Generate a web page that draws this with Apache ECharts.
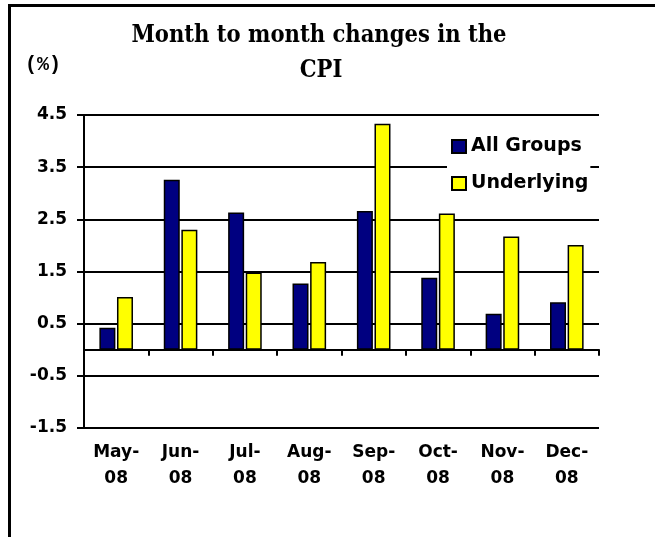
<!DOCTYPE html>
<html>
<head>
<meta charset="utf-8">
<script src="https://cdn.jsdelivr.net/npm/echarts@6/dist/echarts.min.js"></script>
<style>
  html, body { margin: 0; padding: 0; background: #fff; }
  #chart { width: 655px; height: 537px; }
</style>
</head>
<body>
<div id="chart"></div>
<script>
  var months = ["May-\n08", "Jun-\n08", "Jul-\n08", "Aug-\n08", "Sep-\n08", "Oct-\n08", "Nov-\n08", "Dec-\n08"];
  var allGroups = [0.42, 3.26, 2.63, 1.27, 2.66, 1.38, 0.69, 0.91];
  var underlying = [1.01, 2.30, 1.48, 1.68, 4.33, 2.61, 2.17, 2.01];
  var seriesNames = ["All Groups", "Underlying"];
  var titleLines = ["Month to month changes in the", "CPI"];

  var chartDom = document.getElementById("chart");
  var myChart = echarts.init(chartDom);

  var labelFont = "DejaVu Sans";
  var titleFont = "'DejaVu Serif Condensed', 'DejaVu Serif', serif";

  var option = {
    animation: false,
    backgroundColor: "#fff",
    grid: {
      left: 84,
      right: 56,
      top: 115,
      bottom: 109,
    },
    graphic: [
      {
        type: "polyline",
        shape: { points: [[9.5, 537], [9.5, 5.5], [655, 5.5]] },
        style: { stroke: "#000", lineWidth: 3, fill: null },
      },
      {
        type: "text",
        x: 319,
        y: 36,
        style: {
          text: titleLines[0],
          font: "bold 23.5px " + titleFont,
          fill: "#000",
          textAlign: "center",
          textVerticalAlign: "middle",
        },
      },
      {
        type: "text",
        x: 321,
        y: 71,
        style: {
          text: titleLines[1],
          font: "bold 23.5px " + titleFont,
          fill: "#000",
          textAlign: "center",
          textVerticalAlign: "middle",
        },
      },
    ],
    legend: {
      data: seriesNames,
      orient: "vertical",
      left: 447,
      top: 133,
      padding: [4, 2, 4, 4],
      backgroundColor: "#fff",
      itemWidth: 14,
      itemHeight: 13,
      itemGap: 18,
      icon: "rect",
      textStyle: {
        fontFamily: labelFont,
        fontWeight: "bold",
        fontSize: 19,
        color: "#000",
      },
    },
    xAxis: [
      {
        type: "category",
        data: months,
        position: "bottom",
        axisLine: { show: false, onZero: false },
        axisTick: { show: false },
        axisLabel: {
          color: "#000",
          fontFamily: labelFont,
          fontWeight: "bold",
          fontSize: 17,
          lineHeight: 26,
          margin: 12,
          interval: 0,
        },
      },
      {
        type: "category",
        data: months,
        position: "top",
        axisLine: { show: true, onZero: true, lineStyle: { color: "#000", width: 2 } },
        axisTick: { show: true, inside: true, length: 6, lineStyle: { color: "#000", width: 2 } },
        axisLabel: { show: false },
        splitLine: { show: false },
      },
    ],
    yAxis: {
      type: "value",
      min: -1.5,
      max: 4.5,
      interval: 1,
      name: "(%)",
      nameLocation: "end",
      nameGap: 40,
      nameTextStyle: {
        fontFamily: "'Liberation Mono', monospace",
        fontWeight: "bold",
        fontSize: 20,
        color: "#000",
        padding: [0, 82, 0, 0],
      },
      axisLine: { show: true, lineStyle: { color: "#000", width: 2 } },
      axisTick: { show: true, length: 7, lineStyle: { color: "#000", width: 2 } },
      splitLine: { show: true, lineStyle: { color: "#000", width: 2 } },
      axisLabel: {
        color: "#000",
        fontFamily: labelFont,
        fontWeight: "bold",
        fontSize: 17,
        margin: 17,
        formatter: function (v) { return v.toFixed(1); },
      },
    },
    series: [
      {
        name: seriesNames[0],
        type: "bar",
        xAxisIndex: 0,
        data: allGroups,
        barWidth: 16,
        barGap: "10%",
        itemStyle: { color: "#000080", borderColor: "#000", borderWidth: 1.5 },
      },
      {
        name: seriesNames[1],
        type: "bar",
        xAxisIndex: 0,
        data: underlying,
        barWidth: 16,
        barGap: "10%",
        itemStyle: { color: "#ffff00", borderColor: "#000", borderWidth: 1.5 },
      },
    ],
  };

  myChart.setOption(option);
</script>
</body>
</html>
